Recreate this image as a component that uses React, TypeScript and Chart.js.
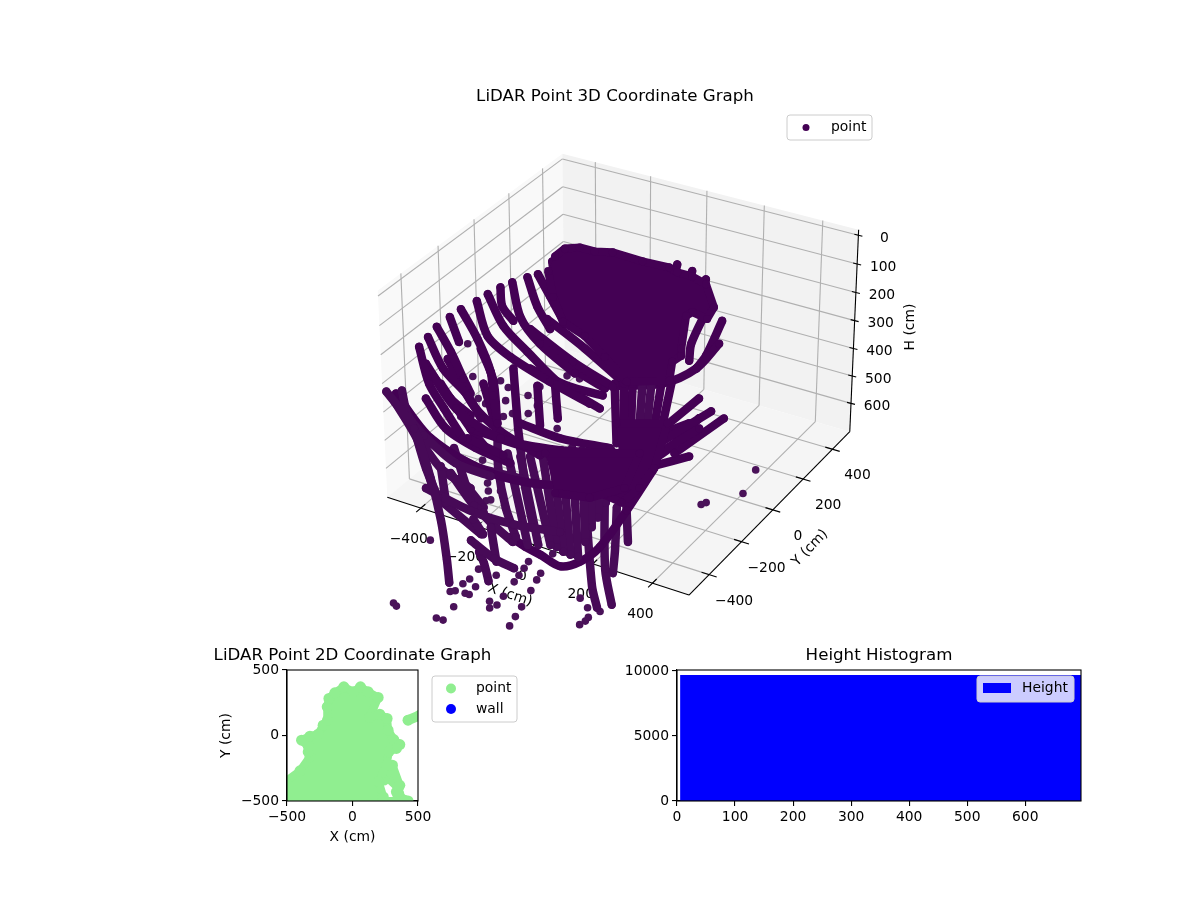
import React, { useEffect, useRef } from "react";
import { Chart, registerables } from "chart.js";

Chart.register(...registerables);

type T3 = [number, number, number];

// ---- 3D cloud: scan lines as [X cm, Y cm, H cm] ----
const fanOutline: T3[] = [[-258,38,58],[-238,64,37],[-200,87,34],[-158,105,45],[-110,131,47],[-25,164,71],[49,196,87],[74,202,100],[116,219,111],[158,230,132],[196,212,193],[187,186,224],[143,173,206],[130,158,216],[142,108,303],[147,98,322],[128,78,338],[135,48,388],[24,-17,391],[-52,-18,325],[-120,-21,269],[-188,-35,232],[-232,-18,166],[-265,9,97]];
const coreOutline: T3[] = [[-135,-234,581],[112,-91,581],[99,-160,673],[22,-237,690],[-79,-271,686]];
const trunkOutline: T3[] = [[29,-87,501],[162,-10,501],[162,-89,620],[138,-137,673],[119,-212,690],[53,-200,690],[67,-135,607]];

const scanF1: T3[] = [[-545,-285,298],[-491,-318,396],[-433,-328,462],[-362,-338,541]];
const scanF2: T3[] = [[-529,-259,272],[-466,-277,356],[-381,-276,427],[-330,-285,488]];
const scanF3: T3[] = [[-514,-232,245],[-458,-244,311],[-405,-260,383],[-375,-269,422]];
const scanF4: T3[] = [[-487,-200,219],[-444,-219,285]];
const scanF5: T3[] = [[-464,-173,198],[-398,-187,277],[-339,-210,364],[-314,-237,427],[-282,-267,501]];
const scanF6: T3[] = [[-429,-138,177],[-374,-168,269],[-298,-161,325],[-177,-133,391],[-56,-102,449]];
const scanF7: T3[] = [[-405,-113,158],[-340,-131,243],[-258,-128,311],[-149,-121,396],[-26,-93,462]];
const scanF8: T3[] = [[-377,-85,140],[-358,-107,190],[-318,-109,229]];
const scanF9: T3[] = [[-350,-60,127],[-302,-94,219],[-231,-99,290],[-117,-85,369]];
const scanF10: T3[] = [[-314,-31,113],[-267,-54,190],[-216,-64,251]];
const scanF11: T3[] = [[-289,-11,105],[-241,-22,163],[-181,-35,237]];
const scanL1: T3[] = [[-597,-393,417],[-496,-400,515],[-415,-440,647],[-297,-567,690],[-169,-733,690],[-98,-830,690]];
const scanL1b: T3[] = [[-496,-400,515],[-435,-434,620],[-374,-465,690]];
const scanL2: T3[] = [[-557,-368,414],[-522,-392,480],[-465,-394,533],[-361,-382,607],[-260,-347,641]];
const scanA1: T3[] = [[-514,-297,343],[-402,-310,462],[-263,-282,541],[-99,-208,573],[73,-114,581]];
const scanA1b: T3[] = [[-461,-258,330],[-358,-280,454],[-268,-273,523],[-147,-245,586]];
const scanA3: T3[] = [[-570,-381,422],[-445,-387,541],[-263,-343,633],[-72,-254,665],[97,-127,620],[249,31,515]];
const scanA4: T3[] = [[-420,-460,673],[-249,-477,690],[-99,-476,690],[42,-443,690]];
const scanA5: T3[] = [[-367,-403,633],[-257,-448,690],[-211,-466,690]];
const scanA6: T3[] = [[-398,-409,615],[-338,-476,690]];
const scanA7: T3[] = [[-163,-612,690],[-52,-660,690],[25,-674,690]];
const scanA8: T3[] = [[-149,-524,690],[-38,-670,690]];
const scanA9: T3[] = [[-218,-512,690],[-149,-567,690]];
const scanA10: T3[] = [[-357,-475,690],[-154,-570,690]];
const scanA11: T3[] = [[-377,-365,567],[-279,-430,690]];
const scanA12: T3[] = [[-349,-331,541],[-243,-300,586]];
const scanA13: T3[] = [[-337,-395,647],[-226,-442,690]];
const scanM1: T3[] = [[-348,-315,515],[-178,-250,567],[-16,-171,589],[112,-91,581]];
const scanV5: T3[] = [[-382,-195,303],[-324,-218,391],[-271,-286,541]];
const scanE1: T3[] = [[-574,-393,435],[-472,-411,554],[-402,-450,673]];
const scanE2: T3[] = [[-513,-400,501],[-396,-412,620],[-303,-393,673]];
const scanE3: T3[] = [[-471,-402,541],[-381,-377,581],[-292,-352,620],[-181,-305,647]];
const scanE4: T3[] = [[-488,-343,435],[-413,-352,515],[-320,-332,567],[-218,-300,607]];
const scanE5: T3[] = [[-271,-286,541],[-246,-325,620],[-168,-410,690],[-57,-531,690]];
const scanE6: T3[] = [[-203,-265,567],[-160,-310,673],[-40,-460,690]];
const scanE7: T3[] = [[-279,-430,690],[-163,-502,690],[-51,-558,690]];
const scanE8: T3[] = [[-505,-300,356],[-423,-306,435],[-358,-298,480]];
const scanE9: T3[] = [[-460,-301,396],[-348,-315,515],[-277,-317,581]];
const scanE10: T3[] = [[-222,-233,501],[-108,-192,541],[30,-130,567]];
const scanE11: T3[] = [[-268,-94,251],[-132,-72,338],[-9,-45,404]];
const scanE12: T3[] = [[-242,-97,277],[-126,-81,356],[-28,-59,409]];
const dotted1: T3[] = [[-349,-236,396],[-276,-277,523]];
const dotted2: T3[] = [[-282,-171,356],[-224,-243,515],[-203,-265,567]];
const dotted3: T3[] = [[-206,-158,401],[-169,-206,507]];
const dotted4: T3[] = [[-162,-128,396],[-128,-170,488]];
const denseD1: T3[] = [[-233,-291,581],[-5,-549,690]];
const denseD2: T3[] = [[-197,-276,589],[22,-534,690]];
const denseD3: T3[] = [[-172,-261,589],[53,-516,690]];
const denseD4: T3[] = [[-142,-239,581],[74,-516,690]];
const denseD5: T3[] = [[-119,-220,573],[104,-528,690]];
const denseD6: T3[] = [[-93,-205,573],[130,-531,690]];
const denseD7: T3[] = [[-68,-187,567],[155,-529,690]];
const denseD8: T3[] = [[-41,-175,573],[133,-451,690]];
const denseD9: T3[] = [[-16,-160,573],[110,-374,690]];
const denseD10: T3[] = [[10,-145,573],[99,-319,690]];
const denseD11: T3[] = [[36,-130,573],[78,-236,690]];
const denseD12: T3[] = [[65,-119,581],[73,-175,673]];
const bowlLow: T3[] = [[-70,-539,690],[-4,-562,690],[54,-575,690],[136,-598,690],[173,-548,690],[184,-453,690],[154,-243,690],[159,-95,628]];
const wallV1: T3[] = [[-1,-226,686],[267,-639,690],[335,-726,690]];
const wallV2: T3[] = [[53,-200,690],[256,-545,690],[364,-693,690]];
const wallV3: T3[] = [[120,-243,690],[230,-443,690],[286,-552,690]];
const wallV4: T3[] = [[137,-215,690],[242,-388,690]];
const wallV5: T3[] = [[-109,-652,690],[-64,-696,690],[-4,-767,690]];
const trunkT1: T3[] = [[-6,-38,396],[44,-113,554]];
const trunkT2: T3[] = [[18,-24,396],[74,-122,594]];
const trunkT3: T3[] = [[41,-11,396],[97,-127,620]];
const trunkT4: T3[] = [[67,4,396],[120,-130,647]];
const trunkT5: T3[] = [[90,18,396],[135,-121,647]];
const trunkT6: T3[] = [[116,33,396],[144,-99,620]];
const trunkT7: T3[] = [[142,48,396],[158,-82,607]];
const spokeR1: T3[] = [[161,-15,507],[226,70,435]];
const spokeR2: T3[] = [[156,-48,554],[267,72,470]];
const spokeR3: T3[] = [[203,-39,581],[306,81,488]];
const spokeR4: T3[] = [[165,-82,612],[244,-21,589]];
const spokeR5: T3[] = [[126,-57,541],[219,22,501]];
const spokeR6: T3[] = [[123,-111,620],[186,-40,567],[241,44,488]];
const rimArc1: T3[] = [[9,-34,401],[119,34,396],[196,105,356],[237,172,290]];
const rimArc2: T3[] = [[228,206,229],[212,136,322],[196,105,356]];
const rimArc3: T3[] = [[180,200,198],[164,130,290],[172,104,335]];
const rimArc4: T3[] = [[-238,-146,356],[-128,-113,401],[-28,-72,427]];
const rimArc5: T3[] = [[-231,-56,224],[-110,-37,303],[3,-25,383]];
const rimTip1: T3[] = [[68,212,79],[73,154,171]];
const rimTip2: T3[] = [[112,226,97],[107,174,171]];
const rimTip3: T3[] = [[154,236,119],[147,189,185]];
const rimTip4: T3[] = [[-261,27,71],[-226,-9,158]];

const scans: T3[][] = [scanF1,scanF2,scanF3,scanF4,scanF5,scanF6,scanF7,scanF8,scanF9,scanF10,scanF11,scanL1,scanL1b,scanL2,scanA1,scanA1b,scanA3,scanA4,scanA5,scanA6,scanA7,scanA8,scanA9,scanA10,scanA11,scanA12,scanA13,scanM1,scanV5,scanE1,scanE2,scanE3,scanE4,scanE5,scanE6,scanE7,scanE8,scanE9,scanE10,scanE11,scanE12,dotted1,dotted2,dotted3,dotted4,denseD1,denseD2,denseD3,denseD4,denseD5,denseD6,denseD7,denseD8,denseD9,denseD10,denseD11,denseD12,bowlLow,wallV1,wallV2,wallV3,wallV4,wallV5,trunkT1,trunkT2,trunkT3,trunkT4,trunkT5,trunkT6,trunkT7,spokeR1,spokeR2,spokeR3,spokeR4,spokeR5,spokeR6,rimArc1,rimArc2,rimArc3,rimArc4,rimArc5,rimTip1,rimTip2,rimTip3,rimTip4];

const looseX = [-420,-382,-351,-328,-383,-306,-281,-278,-250,-223,-272,-209,-199,-136,-101,-122,-200,-191,-263,-255,-240,-223,-211,-230,-293,-254,-267,-62,-1,-57,-61,-21,-71,-61,-29,-16,-180,-164,-21,53,81,71,-33,-11,157,167,147,74,62,127,113,105,50,43,56,83,269,312,352,338,340,335,428,411,331,339];
const looseY = [-208,-243,-264,-259,-314,-207,-204,-225,-232,-185,-249,-208,-155,-100,-85,-184,-164,-184,-360,-369,-407,-351,-359,-396,-338,-315,-671,-729,-730,-785,-815,-810,-867,-856,-853,-852,-996,-1005,-926,-852,-857,-880,-998,-997,-880,-927,-830,-811,-733,-747,-692,-657,-659,-623,-697,-553,-709,-740,-738,-780,-800,-823,62,15,-102,-85];
const looseH = [290,377,435,449,483,388,406,441,475,427,483,475,404,375,383,515,417,454,660,681,690,681,690,690,599,599,690,690,690,690,690,690,690,690,690,690,690,690,690,690,690,690,690,690,690,690,690,690,690,690,690,690,690,690,690,690,690,690,690,690,690,690,625,690,690,690];

const xyTicks = [-400, -200, 0, 200, 400];
const hTicks = [0, 100, 200, 300, 400, 500, 600];

// ---- 2D footprint (outline of the overlapping markers) ----
const flatLeftX = [-516,-516,-401,-325,-338,-338,-389,-325,-262,-224,-191,-193,-180,-135,-66,5,61,119,196,132,208,264,272,315,361,335,277,260,200,235,200];
const flatLeftY = [-546,-354,-270,-163,-125,-82,-36,-5,10,79,117,219,283,326,372,334,372,334,291,138,163,130,41,-31,-69,-99,-125,-227,-352,-469,-546];
const flatRightX = [240,305,361,353,399,391,340,335];
const flatRightY = [-340,-227,-380,-444,-495,-546,-546,-430];
const baseX = [107, 424];
const baseY = [-500, -500];
const sideX = [424, 513];
const sideY = [117, 153];
const flatTicks = [-500, 0, 500];

// ---- Histogram ----
const histCentre = [351];
const histCount = [9660];
const histXTicks = [0, 100, 200, 300, 400, 500, 600];
const histYTicks = [0, 5000, 10000];

const FONT = "'DejaVu Sans'";
const TICK_SIZE = 13.89;
const TITLE_SIZE = 16.67;
const INK = "#000000";
const PURPLE = "#440154";
const PURPLE_NEAR = "#470a57";
const PURPLE_LOOSE = "#4a1259";
const GREEN = "#90ee90";

// mplot3d-style camera
const LIM = 520.8;
const H_TOP = -18.8;
const H_BOT = 705;
const BOX_XY = 0.5714;
const BOX_Z = 0.39;
const CAM = 10;
const el = (30 * Math.PI) / 180;
const az = (-60 * Math.PI) / 180;
const w = [Math.cos(el) * Math.cos(az), Math.cos(el) * Math.sin(az), Math.sin(el)];
const u = [-Math.sin(az), Math.cos(az), 0];
const v = [w[1] * u[2] - w[2] * u[1], w[2] * u[0] - w[0] * u[2], w[0] * u[1] - w[1] * u[0]];
function project(x: number, y: number, h: number) {
  const b = [(x / LIM) * BOX_XY, (y / LIM) * BOX_XY, BOX_Z * (1 - (2 * (h - H_TOP)) / (H_BOT - H_TOP))];
  const dot = (a: number[]) => a[0] * b[0] + a[1] * b[1] + a[2] * b[2];
  const d = CAM - dot(w);
  return { x: dot(u) / d, y: dot(v) / d };
}

const K = 3040;
const OX = 622.7;
const OY = 365;
const VIEW_LEFT = 30;
const VIEW_TOP = 120;

type LegendItem = { text: string; color: string; kind: "dot" | "rect"; mx: number; my: number; tx: number };
function legendPlugin(box: number[], bg: string, items: LegendItem[], left: number, top: number, r: number) {
  return {
    id: "mplLegend",
    afterDraw(chart: any) {
      const c = chart.ctx;
      c.save();
      c.translate(-left, -top);
      c.beginPath();
      c.roundRect(box[0], box[1], box[2], box[3], 3);
      c.fillStyle = bg;
      c.fill();
      c.strokeStyle = "#cccccc";
      c.lineWidth = 1;
      c.stroke();
      c.textBaseline = "middle";
      c.textAlign = "left";
      c.font = `${TICK_SIZE}px ${FONT}`;
      for (const it of items) {
        c.fillStyle = it.color;
        if (it.kind === "dot") {
          c.beginPath();
          c.arc(it.mx, it.my, r, 0, Math.PI * 2);
          c.fill();
        } else {
          c.fillRect(it.mx, it.my - 5, 28, 10);
        }
        c.fillStyle = INK;
        c.fillText(it.text, it.tx, it.my);
      }
      c.restore();
    },
  };
}

const frame = {
  id: "frame",
  afterDraw(chart: any) {
    const { left, top, width, height } = chart.chartArea;
    const c = chart.ctx;
    c.save();
    c.strokeStyle = INK;
    c.lineWidth = 1.1;
    c.strokeRect(left, top, width, height);
    c.restore();
  },
};

const axes3d = {
  id: "axes3d",
  beforeDatasetsDraw(chart: any) {
    const c = chart.ctx;
    const sx = chart.scales.x;
    const sy = chart.scales.y;
    const P = (x: number, y: number, h: number) => {
      const p = project(x, y, h);
      return [sx.getPixelForValue(p.x), sy.getPixelForValue(p.y)];
    };
    const poly = (pts: number[][], fill: string) => {
      c.beginPath();
      pts.forEach((p, i) => (i ? c.lineTo(p[0], p[1]) : c.moveTo(p[0], p[1])));
      c.closePath();
      c.fillStyle = fill;
      c.fill();
    };
    const seg = (a: number[], b: number[], color: string, width: number) => {
      c.beginPath();
      c.moveTo(a[0], a[1]);
      c.lineTo(b[0], b[1]);
      c.strokeStyle = color;
      c.lineWidth = width;
      c.stroke();
    };
    const L = LIM;
    poly([P(-L, -L, H_BOT), P(-L, L, H_BOT), P(-L, L, H_TOP), P(-L, -L, H_TOP)], "#f9f9f9");
    poly([P(-L, L, H_BOT), P(L, L, H_BOT), P(L, L, H_TOP), P(-L, L, H_TOP)], "#f2f2f2");
    poly([P(-L, -L, H_BOT), P(L, -L, H_BOT), P(L, L, H_BOT), P(-L, L, H_BOT)], "#f5f5f5");
    const grid = "#b0b0b0";
    for (const t of xyTicks) {
      seg(P(t, -L, H_BOT), P(t, L, H_BOT), grid, 1.1);
      seg(P(t, L, H_BOT), P(t, L, H_TOP), grid, 1.1);
      seg(P(-L, t, H_BOT), P(L, t, H_BOT), grid, 1.1);
      seg(P(-L, t, H_BOT), P(-L, t, H_TOP), grid, 1.1);
    }
    for (const h of hTicks) {
      seg(P(-L, -L, h), P(-L, L, h), grid, 1.1);
      seg(P(-L, L, h), P(L, L, h), grid, 1.1);
    }
    seg(P(-L, -L, H_BOT), P(L, -L, H_BOT), INK, 1.1);
    seg(P(L, -L, H_BOT), P(L, L, H_BOT), INK, 1.1);
    seg(P(L, L, H_BOT), P(L, L, H_TOP), INK, 1.1);
    c.font = `${TICK_SIZE}px ${FONT}`;
    c.fillStyle = INK;
    c.textAlign = "center";
    c.textBaseline = "middle";
    const fmt = (t: number) => (t < 0 ? "\u2212" + Math.abs(t) : String(t));
    for (const t of xyTicks) {
      seg(P(t, -L - 25, H_BOT), P(t, -L + 25, H_BOT), INK, 1.1);
      const a = P(t, -L, H_BOT);
      c.fillText(fmt(t), a[0] - 12, a[1] + 31);
      seg(P(L + 25, t, H_BOT), P(L - 25, t, H_BOT), INK, 1.1);
      const b = P(L, t, H_BOT);
      c.fillText(fmt(t), b[0] + 25, b[1] + 26.5);
    }
    for (const h of hTicks) {
      const a = P(L, L, h);
      seg([a[0] - 4, a[1] - 1], [a[0] + 4, a[1] + 1], INK, 1.1);
      c.fillText(String(h), a[0] + 26, a[1] + 3);
    }
    const rotated = (t: string, page: number[], deg: number) => {
      c.save();
      c.translate(page[0] - VIEW_LEFT, page[1]);
      c.rotate((deg * Math.PI) / 180);
      c.fillText(t, 0, 0);
      c.restore();
    };
    rotated("X (cm)", [510, 595], 18.5);
    rotated("Y (cm)", [810, 548], -46);
    rotated("H (cm)", [910, 327], -90);
  },
};

const scanDataset = (scan: T3[]) => {
  const near = scan[scan.length - 1][2] > 640;
  const color = near ? PURPLE_NEAR : PURPLE;
  return {
    label: "point",
    data: scan.map((s) => project(s[0], s[1], s[2])),
    showLine: true,
    tension: 0.3,
    borderColor: color,
    backgroundColor: color,
    borderWidth: 8.5,
    borderCapStyle: "round",
    borderJoinStyle: "round",
    pointRadius: 4,
    pointBorderWidth: 0,
    clip: false,
  };
};
const outlineDataset = (outline: T3[]) => ({
  label: "point",
  data: outline.map((s) => project(s[0], s[1], s[2])),
  showLine: true,
  fill: "shape",
  borderColor: PURPLE,
  backgroundColor: PURPLE,
  borderWidth: 8,
  borderJoinStyle: "round",
  pointRadius: 4,
  pointBorderWidth: 0,
  clip: false,
});
const flatDataset = (xs: number[], ys: number[], filled: boolean, width: number) => ({
  label: "point",
  data: xs.map((x, i) => ({ x, y: ys[i] })),
  showLine: true,
  fill: filled ? "shape" : false,
  borderWidth: width,
  borderColor: GREEN,
  backgroundColor: GREEN,
  borderJoinStyle: "round",
  borderCapStyle: "round",
  pointRadius: 5.5,
  pointBorderWidth: 0,
  clip: 0,
});
const fixedTicks = (vals: number[]) => (s: any) => {
  s.ticks = vals.map((value) => ({ value }));
};
const spacerAxis = (width: number) => ({
  type: "linear",
  position: "right",
  display: true,
  afterFit: (s: any) => { s.width = width; },
  ticks: { display: false },
  grid: { display: false },
  border: { display: false },
});

export default function App() {
  const ref3d = useRef<HTMLCanvasElement>(null);
  const ref2d = useRef<HTMLCanvasElement>(null);
  const refHist = useRef<HTMLCanvasElement>(null);

  useEffect(() => {
    const tickFont = { family: FONT, size: TICK_SIZE };
    const titleFont = { family: FONT, size: TITLE_SIZE, weight: "normal" as const };
    const axisGrid = { drawOnChartArea: false, drawTicks: true, tickLength: 5, color: INK, lineWidth: 1.1, offset: false };
    const axisBorder = { color: INK, width: 1.1 };
    const minusFmt = (t: any) => (t < 0 ? "\u2212" + Math.abs(t) : String(t));

    const c3 = new Chart(ref3d.current!, {
      type: "scatter",
      data: {
        datasets: [
          outlineDataset(fanOutline),
          outlineDataset(coreOutline),
          outlineDataset(trunkOutline),
          ...scans.map(scanDataset),
          {
            label: "point",
            data: looseX.map((x, i) => project(x, looseY[i], looseH[i])),
            backgroundColor: PURPLE_LOOSE,
            pointRadius: 3.8,
            pointBorderWidth: 0,
            clip: false,
          },
        ] as any,
      },
      options: {
        responsive: false,
        animation: false,
        devicePixelRatio: 1,
        layout: { padding: 0 },
        scales: {
          x: { type: "linear", display: false, min: (VIEW_LEFT - OX) / K, max: (1200 - OX) / K },
          y: { type: "linear", display: false, min: (OY - 900) / K, max: (OY - VIEW_TOP) / K },
        },
        plugins: {
          legend: { display: false },
          tooltip: { enabled: false },
          title: {
            display: true,
            text: "LiDAR Point 3D Coordinate Graph",
            color: INK,
            font: titleFont,
            padding: { top: 87, bottom: 13 },
          },
        },
      } as any,
      plugins: [
        axes3d,
        legendPlugin([787, 115, 85, 25], "rgba(255,255,255,0.8)", [{ text: "point", color: PURPLE, kind: "dot", mx: 806, my: 127.5, tx: 831 }], VIEW_LEFT, 0, 3.5),
      ],
    });

    const c2 = new Chart(ref2d.current!, {
      type: "scatter",
      data: {
        datasets: [
          flatDataset(flatLeftX, flatLeftY, true, 8),
          flatDataset(flatRightX, flatRightY, true, 8),
          flatDataset(baseX, baseY, false, 8),
          flatDataset(sideX, sideY, false, 10),
          { label: "wall", data: [], backgroundColor: "#0000ff" },
        ] as any,
      },
      options: {
        responsive: false,
        animation: false,
        devicePixelRatio: 1,
        layout: { padding: 0 },
        scales: {
          x: {
            type: "linear",
            min: -500,
            max: 500,
            afterFit: (s: any) => { s.height = 49; },
            afterBuildTicks: fixedTicks(flatTicks),
            ticks: { color: INK, font: tickFont, padding: 3, maxRotation: 0, autoSkip: false, callback: minusFmt },
            grid: axisGrid,
            border: axisBorder,
            title: { display: true, text: "X (cm)", color: INK, font: tickFont, padding: { top: 2, bottom: 4 } },
          },
          y: {
            type: "linear",
            min: -500,
            max: 500,
            afterFit: (s: any) => { s.width = 107; },
            afterBuildTicks: fixedTicks(flatTicks),
            ticks: { color: INK, font: tickFont, padding: 3, maxRotation: 0, autoSkip: false, callback: minusFmt },
            grid: axisGrid,
            border: axisBorder,
            title: { display: true, text: "Y (cm)", color: INK, font: tickFont, padding: { top: 38, bottom: 0 } },
          },
          spare: spacerAxis(107),
        },
        plugins: {
          legend: { display: false },
          tooltip: { enabled: false },
          title: {
            display: true,
            text: "LiDAR Point 2D Coordinate Graph",
            color: INK,
            font: titleFont,
            padding: { top: 6, bottom: 4 },
          },
        },
      } as any,
      plugins: [
        frame,
        legendPlugin(
          [432, 676, 85, 46],
          "rgba(255,255,255,0.8)",
          [
            { text: "point", color: GREEN, kind: "dot", mx: 451, my: 688.5, tx: 476 },
            { text: "wall", color: "#0000ff", kind: "dot", mx: 451, my: 709, tx: 476 },
          ],
          180,
          640,
          5
        ),
      ],
    });

    const cH = new Chart(refHist.current!, {
      type: "bar",
      data: {
        datasets: [
          {
            label: "Height",
            data: histCentre.map((x, i) => ({ x, y: histCount[i] })),
            backgroundColor: "#0000ff",
            barThickness: 400.5,
            clip: 0,
          },
        ] as any,
      },
      options: {
        responsive: false,
        animation: false,
        devicePixelRatio: 1,
        layout: { padding: 0 },
        scales: {
          x: {
            type: "linear",
            min: 0,
            max: 696,
            offset: false,
            afterFit: (s: any) => { s.height = 49; },
            afterBuildTicks: fixedTicks(histXTicks),
            ticks: { color: INK, font: tickFont, padding: 3, maxRotation: 0, autoSkip: false, callback: (t: any) => String(t) },
            grid: axisGrid,
            border: axisBorder,
          },
          y: {
            type: "linear",
            min: 0,
            max: 10075,
            afterFit: (s: any) => { s.width = 57; },
            afterBuildTicks: fixedTicks(histYTicks),
            ticks: { color: INK, font: tickFont, padding: 3, autoSkip: false, callback: (t: any) => String(t) },
            grid: axisGrid,
            border: axisBorder,
          },
          spare: spacerAxis(57),
        },
        plugins: {
          legend: { display: false },
          tooltip: { enabled: false },
          title: {
            display: true,
            text: "Height Histogram",
            color: INK,
            font: titleFont,
            padding: { top: 6, bottom: 4 },
          },
        },
      } as any,
      plugins: [
        frame,
        legendPlugin(
          [977, 676, 97, 26],
          "rgba(255,255,255,0.8)",
          [{ text: "Height", color: "#0000ff", kind: "rect", mx: 983, my: 688, tx: 1022 }],
          620,
          640,
          5
        ),
      ],
    });

    return () => {
      c3.destroy();
      c2.destroy();
      cH.destroy();
    };
  }, []);

  return (
    <div style={{ position: "absolute", left: 0, top: 0, width: 1200, height: 900, background: "#fff", overflow: "hidden" }}>
      <canvas ref={ref3d} width={1170} height={900} style={{ position: "absolute", left: 30, top: 0, width: 1170, height: 900 }} />
      <canvas ref={ref2d} width={345} height={210} style={{ position: "absolute", left: 180, top: 640, width: 345, height: 210 }} />
      <canvas ref={refHist} width={518} height={210} style={{ position: "absolute", left: 620, top: 640, width: 518, height: 210 }} />
    </div>
  );
}
